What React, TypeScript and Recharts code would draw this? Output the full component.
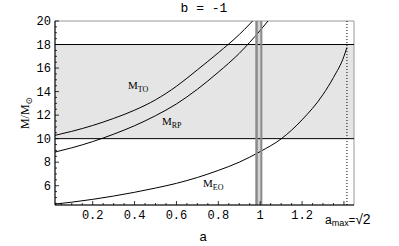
import { LineChart, Line, XAxis, YAxis, ReferenceArea, ReferenceLine } from 'recharts';

// curve samples (a, M/Msun)
const aTO = [0.02, 0.1, 0.2, 0.3, 0.4, 0.5, 0.6, 0.7, 0.8, 0.9, 1.0];
const mTO = [10.28, 10.62, 11.12, 11.72, 12.42, 13.3, 14.45, 15.85, 17.3, 18.85, 20.7];

const aRP = [0.02, 0.1, 0.2, 0.3, 0.4, 0.5, 0.6, 0.7, 0.8, 0.9, 1.0, 1.1];
const mRP = [8.86, 9.22, 9.75, 10.38, 11.1, 11.95, 12.95, 14.2, 15.65, 17.25, 19.2, 21.4];

const aEO = [0.02, 0.1, 0.2, 0.3, 0.4, 0.5, 0.6, 0.7, 0.8, 0.9, 1.0, 1.1, 1.2, 1.3, 1.35, 1.4, 1.414];
const mEO = [4.44, 4.6, 4.84, 5.12, 5.44, 5.8, 6.2, 6.7, 7.3, 8.0, 8.9, 9.98, 11.6, 13.75, 15.2, 17.0, 17.75];

const bandLow = 10;
const bandHigh = 18;
const aMax = 1.4142;
const aOne = [0.98, 1.008];

const xDomain = [0.02, 1.448];
const yDomain = [4.36, 20];

const xLabels = [0.2, 0.4, 0.6, 0.8, 1, 1.2];
const xTicks = Array.from({ length: 28 }, (_, i) => +(0.05 * (i + 1)).toFixed(2));
const yTicks = Array.from({ length: 32 }, (_, i) => 4.5 + 0.5 * i);

const toData = (xs: number[], ys: number[]) => xs.map((a, i) => ({ a, m: ys[i] }));

const mono = '"Liberation Mono", "DejaVu Sans Mono", monospace';
const serif = '"Liberation Serif", "DejaVu Serif", serif';
const sans = '"Liberation Sans", Arial, sans-serif';

const XTick = (props: any) => {
  const { x, y, payload } = props;
  const v = payload.value;
  const major = Math.abs(v * 5 - Math.round(v * 5)) < 1e-6;
  const labelled = xLabels.some((l) => Math.abs(l - v) < 1e-6);
  return (
    <g>
      <line x1={x} x2={x} y1={y} y2={y - (major ? 4 : 2)} stroke="#000" strokeWidth={0.8} />
      {labelled && (
        <text x={x} y={y + 14} textAnchor="middle" fontFamily={mono} fontSize={12} fill="#000">
          {String(v)}
        </text>
      )}
    </g>
  );
};

const YTick = (props: any) => {
  const { x, y, payload } = props;
  const v = payload.value;
  const major = Math.abs(v / 2 - Math.round(v / 2)) < 1e-6;
  return (
    <g>
      <line x1={x} x2={x + (major ? 4 : 2)} y1={y} y2={y} stroke="#000" strokeWidth={0.8} />
      {major && (
        <text x={x - 4} y={y + 4} textAnchor="end" fontFamily={mono} fontSize={12} fill="#000">
          {String(v)}
        </text>
      )}
    </g>
  );
};

const CurveLabel = ({ x, y, sub }: { x: number; y: number; sub: string }) => (
  <text x={x} y={y} fontFamily={serif} fontSize={11} fill="#000">
    M
    <tspan fontSize={8} dy={3}>
      {sub}
    </tspan>
  </text>
);

export default function App() {
  return (
    <div style={{ position: 'absolute', left: 0, top: 0, width: 399, height: 246, background: '#fff' }}>
      <LineChart width={399} height={246} margin={{ top: 21, right: 45, bottom: 0, left: 0 }}>
        <ReferenceArea y1={bandLow} y2={bandHigh} x1={xDomain[0]} x2={xDomain[1]} fill="#e5e5e5" fillOpacity={1} />
        <ReferenceLine y={bandLow} stroke="#000" strokeWidth={1} />
        <ReferenceLine y={bandHigh} stroke="#000" strokeWidth={1} />
        <ReferenceLine x={aMax} stroke="#000" strokeWidth={1} strokeDasharray="1 2" />
        <XAxis
          type="number"
          dataKey="a"
          domain={xDomain}
          allowDataOverflow
          ticks={xTicks}
          interval={0}
          tick={<XTick />}
          tickLine={false}
          tickSize={0}
          tickMargin={0}
          height={41}
          axisLine={{ stroke: '#000' }}
        />
        <YAxis
          type="number"
          domain={yDomain}
          allowDataOverflow
          ticks={yTicks}
          interval={0}
          tick={<YTick />}
          tickLine={false}
          tickSize={0}
          tickMargin={0}
          width={55}
          axisLine={{ stroke: '#000' }}
        />
        <Line data={toData(aTO, mTO)} dataKey="m" type="monotone" stroke="#000" strokeWidth={1} dot={false} isAnimationActive={false} />
        <Line data={toData(aRP, mRP)} dataKey="m" type="monotone" stroke="#000" strokeWidth={1} dot={false} isAnimationActive={false} />
        <Line data={toData(aEO, mEO)} dataKey="m" type="monotone" stroke="#000" strokeWidth={1} dot={false} isAnimationActive={false} />
        <ReferenceArea x1={aOne[0]} x2={aOne[1]} y1={yDomain[0]} y2={yDomain[1]} fill="#d4d4d4" fillOpacity={1} />
        <ReferenceLine x={0.9825} stroke="#8a8a8a" strokeWidth={2.5} />
        <ReferenceLine x={1.0055} stroke="#8a8a8a" strokeWidth={2} />
        <ReferenceArea x1={xDomain[0]} x2={xDomain[1]} y1={yDomain[0]} y2={yDomain[1]} fill="none" stroke="#999" />
      </LineChart>
      <svg width={399} height={246} style={{ position: 'absolute', left: 0, top: 0, pointerEvents: 'none' }}>
        <text x={204} y={12} textAnchor="middle" fontFamily={mono} fontSize={13} fill="#000">
          b = -1
        </text>
        <text x={203} y={241} textAnchor="middle" fontFamily={sans} fontSize={13} fill="#000">
          a
        </text>
        <text transform="translate(29,113) rotate(-90)" textAnchor="middle" fontFamily={serif} fontSize={12} fill="#000">
          M/M
          <tspan fontSize={9} dy={3}>
            ⊙
          </tspan>
        </text>
        <CurveLabel x={128} y={89} sub="TO" />
        <CurveLabel x={162} y={125} sub="RP" />
        <CurveLabel x={203} y={187} sub="EO" />
        <text x={325} y={224} fontFamily={sans} fontSize={12} fill="#000">
          a
          <tspan fontSize={9} dy={2}>
            max
          </tspan>
          <tspan fontSize={11} dy={-2}>
            =
          </tspan>
          <tspan fontSize={14}>√2</tspan>
        </text>
      </svg>
    </div>
  );
}
